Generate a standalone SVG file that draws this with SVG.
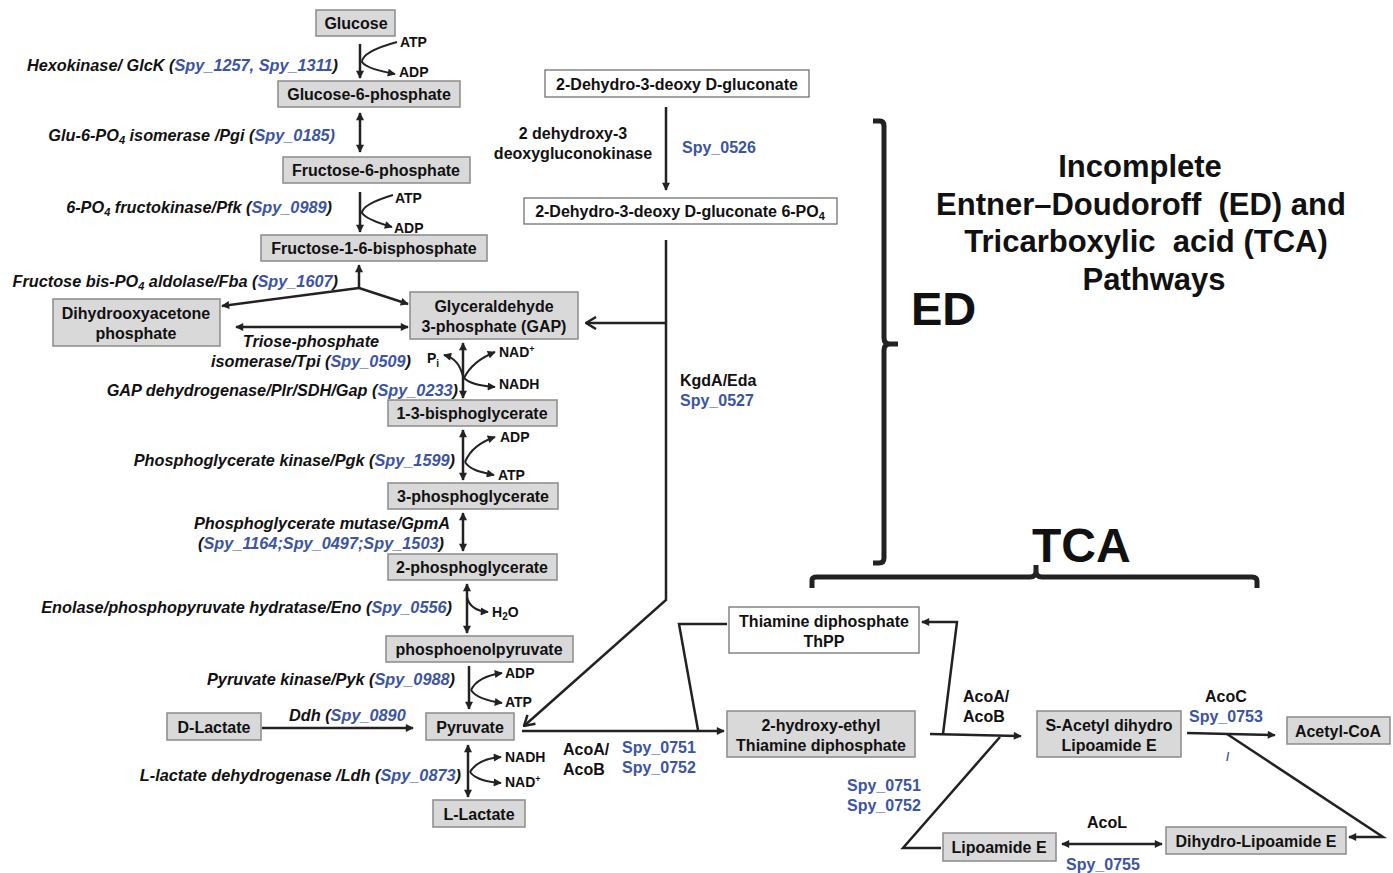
<svg xmlns="http://www.w3.org/2000/svg" width="1393" height="873" viewBox="0 0 1393 873">
<style>
text{font-family:"Liberation Sans",Arial,sans-serif;font-weight:bold;fill:#111}
.n{font-size:16px;text-anchor:middle}
.e{font-size:16.3px;font-style:italic}
.s{fill:#3b54a6}
.c{font-size:14px}
.lbl{font-size:16px}
.g{fill:#d9d9d9;stroke:#8a8a8a;stroke-width:1.5}
.w{fill:#fff;stroke:#666;stroke-width:1.2}
.ln{fill:none;stroke:#222;stroke-width:2.5}
.cf{fill:none;stroke:#222;stroke-width:2}
.br{fill:none;stroke:#222;stroke-width:5;stroke-linejoin:round}
.t{font-size:31px;text-anchor:middle;white-space:pre}
</style>
<defs>
<marker id="a" viewBox="0 0 10 10" refX="9" refY="5" markerWidth="9" markerHeight="8" markerUnits="userSpaceOnUse" orient="auto-start-reverse"><path d="M0,0 L10,5 L0,10 z" fill="#222"/></marker>
<marker id="ch" viewBox="0 0 12 14" refX="11" refY="7" markerWidth="12" markerHeight="14" markerUnits="userSpaceOnUse" orient="auto-start-reverse"><path d="M1,1 L11,7 L1,13" fill="none" stroke="#222" stroke-width="2.5"/></marker>
</defs>

<g id="connectors">
<line class="ln" x1="360" y1="44" x2="360" y2="78" marker-end="url(#a)"/>
<line class="ln" x1="360" y1="113" x2="360" y2="152" marker-start="url(#a)" marker-end="url(#a)"/>
<line class="ln" x1="360" y1="192" x2="360" y2="232" marker-end="url(#a)"/>
<line class="ln" x1="359" y1="288" x2="359" y2="265" marker-end="url(#a)"/>
<line class="ln" x1="359" y1="288" x2="222" y2="306" marker-end="url(#a)"/>
<line class="ln" x1="359" y1="288" x2="408" y2="304" marker-end="url(#a)"/>
<line class="ln" x1="236" y1="327" x2="408" y2="327" marker-start="url(#a)" marker-end="url(#a)"/>
<line class="ln" x1="463" y1="343" x2="463" y2="398" marker-start="url(#a)" marker-end="url(#a)"/>
<line class="ln" x1="463" y1="430" x2="463" y2="480" marker-start="url(#a)" marker-end="url(#a)"/>
<line class="ln" x1="463" y1="513" x2="463" y2="551" marker-start="url(#a)" marker-end="url(#a)"/>
<line class="ln" x1="467" y1="584" x2="467" y2="633" marker-start="url(#a)" marker-end="url(#a)"/>
<line class="ln" x1="469" y1="666" x2="469" y2="709" marker-end="url(#a)"/>
<line class="ln" x1="262" y1="728" x2="413" y2="728" marker-end="url(#a)"/>
<line class="ln" x1="468" y1="745" x2="468" y2="797" marker-start="url(#a)" marker-end="url(#a)"/>
<path class="cf" d="M397,42 C375,48 362,55 362,62 C366,68 380,71 395,74" marker-end="url(#a)"/>
<path class="cf" d="M393,195 C373,201 362,207 362,213 C366,219 378,223 392,227" marker-end="url(#a)"/>
<path class="cf" d="M463,376 C460,366 456,358 444,355" marker-end="url(#a)"/>
<path class="cf" d="M464,378 C470,366 480,358 495,352" marker-end="url(#a)"/>
<path class="cf" d="M464,378 C470,384 480,386 495,387" marker-end="url(#a)"/>
<path class="cf" d="M465,462 C470,450 480,442 495,437" marker-end="url(#a)"/>
<path class="cf" d="M465,462 C470,470 480,472 494,475" marker-end="url(#a)"/>
<path class="cf" d="M467,597 C469,606 475,611 488,612" marker-end="url(#a)"/>
<path class="cf" d="M471,690 C476,680 488,675 502,673" marker-end="url(#a)"/>
<path class="cf" d="M471,690 C476,698 488,701 502,703" marker-end="url(#a)"/>
<path class="cf" d="M470,772 C476,762 488,758 501,757" marker-end="url(#a)"/>
<path class="cf" d="M470,772 C476,780 488,782 501,783" marker-end="url(#a)"/>
<line class="ln" x1="666" y1="107" x2="666" y2="190" marker-end="url(#a)"/>
<polyline class="ln" points="666,240 666,600 524,726" marker-end="url(#ch)"/>
<line class="ln" x1="666" y1="323" x2="586" y2="323" marker-end="url(#ch)"/>
<line class="ln" x1="522" y1="731" x2="724" y2="731" marker-end="url(#a)"/>
<polyline class="ln" points="727,624 679,624 698,730"/>
<line class="ln" x1="930" y1="734" x2="1021" y2="736" marker-end="url(#a)"/>
<polyline class="ln" points="943,734 957,622 922,622" marker-end="url(#a)"/>
<polyline class="ln" points="1000,737 903,848 941,848"/>
<line class="ln" x1="1062" y1="844" x2="1162" y2="844" marker-start="url(#a)" marker-end="url(#a)"/>
<line class="ln" x1="1187" y1="733" x2="1275" y2="735" marker-end="url(#a)"/>
<polyline class="ln" points="1227,734 1383,837 1349,837" marker-end="url(#a)"/>
</g>

<g id="braces">
<path class="br" d="M873,121 L880,121 Q884,121 884,126 L884,338 Q884,344 890,344 L898,344 M890,344 Q884,344 884,350 L884,558 Q884,563 879,563 L873,563"/>
<path class="br" d="M812,588 L812,580 Q812,577 817,577 L1030,577 Q1036,577 1036,571 L1036,565 M1036,571 Q1036,577 1042,577 L1252,577 Q1257,577 1257,581 L1257,588"/>
</g>

<g id="glucose"><rect class="g" x="316" y="10" width="79" height="26"/><text class="n" x="356" y="29">Glucose</text></g>
<g id="g6p"><rect class="g" x="278" y="81" width="182" height="26"/><text class="n" x="369" y="100">Glucose-6-phosphate</text></g>
<g id="f6p"><rect class="g" x="283" y="157" width="187" height="26"/><text class="n" x="376" y="176">Fructose-6-phosphate</text></g>
<g id="f16bp"><rect class="g" x="261" y="235" width="226" height="26"/><text class="n" x="374" y="254">Fructose-1-6-bisphosphate</text></g>
<g id="dhap"><rect class="g" x="53" y="299" width="167" height="47"/><text class="n" x="136" y="319">Dihydrooxyacetone</text><text class="n" x="136" y="339">phosphate</text></g>
<g id="gap"><rect class="g" x="410" y="292" width="168" height="47"/><text class="n" x="494" y="312">Glyceraldehyde</text><text class="n" x="494" y="332">3-phosphate (GAP)</text></g>
<g id="bpg13"><rect class="g" x="388" y="400" width="169" height="26"/><text class="n" x="472" y="419">1-3-bisphoglycerate</text></g>
<g id="pg3"><rect class="g" x="388" y="483" width="170" height="26"/><text class="n" x="473" y="502">3-phosphoglycerate</text></g>
<g id="pg2"><rect class="g" x="388" y="554" width="169" height="26"/><text class="n" x="472" y="573">2-phosphoglycerate</text></g>
<g id="pep"><rect class="g" x="386" y="636" width="187" height="26"/><text class="n" x="479" y="655">phosphoenolpyruvate</text></g>
<g id="dlac"><rect class="g" x="167" y="713" width="94" height="27"/><text class="n" x="214" y="733">D-Lactate</text></g>
<g id="pyr"><rect class="g" x="426" y="713" width="88" height="27"/><text class="n" x="470" y="733">Pyruvate</text></g>
<g id="llac"><rect class="g" x="433" y="800" width="92" height="27"/><text class="n" x="479" y="820">L-Lactate</text></g>
<g id="kdg"><rect class="w" x="545" y="70" width="264" height="27"/><text class="n" x="677" y="90">2-Dehydro-3-deoxy D-gluconate</text></g>
<g id="kdpg"><rect class="w" x="524" y="198" width="313" height="26"/><text class="n" x="680" y="217">2-Dehydro-3-deoxy D-gluconate 6-PO<tspan font-size="11" dy="3">4</tspan></text></g>
<g id="thpp"><rect class="w" x="729" y="607" width="190" height="46"/><text class="n" x="824" y="627">Thiamine diphosphate</text><text class="n" x="824" y="647">ThPP</text></g>
<g id="hethpp"><rect class="g" x="727" y="711" width="188" height="46"/><text class="n" x="821" y="731">2-hydroxy-ethyl</text><text class="n" x="821" y="751">Thiamine diphosphate</text></g>
<g id="sacetyl"><rect class="g" x="1037" y="711" width="144" height="46"/><text class="n" x="1109" y="731">S-Acetyl dihydro</text><text class="n" x="1109" y="751">Lipoamide E</text></g>
<g id="acetylcoa"><rect class="g" x="1287" y="717" width="103" height="27"/><text class="n" x="1338" y="737">Acetyl-CoA</text></g>
<g id="lipoamide"><rect class="g" x="943" y="833" width="113" height="28"/><text class="n" x="999" y="853">Lipoamide E</text></g>
<g id="dihydrolipo"><rect class="g" x="1166" y="827" width="180" height="27"/><text class="n" x="1256" y="847">Dihydro-Lipoamide E</text></g>

<g id="enzyme-labels">
<text class="e" x="338" y="71" text-anchor="end">Hexokinase/ GlcK (<tspan class="s">Spy_1257, Spy_1311</tspan>)</text>
<text class="e" x="335" y="141" text-anchor="end">Glu-6-PO<tspan font-size="11" dy="3">4</tspan><tspan dy="-3"> isomerase /Pgi (</tspan><tspan class="s">Spy_0185)</tspan></text>
<text class="e" x="332" y="213" text-anchor="end">6-PO<tspan font-size="11" dy="3">4</tspan><tspan dy="-3"> fructokinase/Pfk (</tspan><tspan class="s">Spy_0989</tspan>)</text>
<text class="e" x="338" y="287" text-anchor="end">Fructose bis-PO<tspan font-size="11" dy="3">4</tspan><tspan dy="-3"> aldolase/Fba (</tspan><tspan class="s">Spy_1607</tspan>)</text>
<text class="e" x="311" y="347" text-anchor="middle">Triose-phosphate</text>
<text class="e" x="311" y="367" text-anchor="middle">isomerase/Tpi (<tspan class="s">Spy_0509</tspan>)</text>
<text class="e" x="458" y="396" text-anchor="end">GAP dehydrogenase/Plr/SDH/Gap (<tspan class="s">Spy_0233</tspan>)</text>
<text class="e" x="455" y="466" text-anchor="end">Phosphoglycerate kinase/Pgk (<tspan class="s">Spy_1599</tspan>)</text>
<text class="e" x="322" y="529" text-anchor="middle">Phosphoglycerate mutase/GpmA</text>
<text class="e" x="321" y="549" text-anchor="middle">(<tspan class="s">Spy_1164;Spy_0497;Spy_1503</tspan>)</text>
<text class="e" x="452" y="613" text-anchor="end">Enolase/phosphopyruvate hydratase/Eno (<tspan class="s">Spy_0556</tspan>)</text>
<text class="e" x="455" y="685" text-anchor="end">Pyruvate kinase/Pyk (<tspan class="s">Spy_0988</tspan>)</text>
<text class="e" x="289" y="721">Ddh (<tspan class="s">Spy_0890</tspan></text>
<text class="e" x="461" y="781" text-anchor="end">L-lactate dehydrogenase /Ldh (<tspan class="s">Spy_0873</tspan>)</text>
</g>

<g id="cofactors">
<text class="c" x="400" y="47">ATP</text>
<text class="c" x="399" y="77">ADP</text>
<text class="c" x="395" y="203">ATP</text>
<text class="c" x="394" y="233">ADP</text>
<text class="c" x="427" y="363">P<tspan font-size="10" dy="4">i</tspan></text>
<text class="c" x="499" y="357">NAD<tspan font-size="9" dy="-5">+</tspan></text>
<text class="c" x="499" y="389">NADH</text>
<text class="c" x="500" y="442">ADP</text>
<text class="c" x="498" y="480">ATP</text>
<text class="c" x="492" y="617">H<tspan font-size="10" dy="3">2</tspan><tspan dy="-3">O</tspan></text>
<text class="c" x="505" y="678">ADP</text>
<text class="c" x="505" y="707">ATP</text>
<text class="c" x="505" y="762">NADH</text>
<text class="c" x="505" y="787">NAD<tspan font-size="9" dy="-5">+</tspan></text>
</g>

<g id="ed-labels">
<text class="lbl" x="573" y="139" text-anchor="middle">2 dehydroxy-3</text>
<text class="lbl" x="573" y="159" text-anchor="middle">deoxygluconokinase</text>
<text class="lbl s" x="682" y="153">Spy_0526</text>
<text class="lbl" x="680" y="386">KgdA/Eda</text>
<text class="lbl s" x="680" y="406">Spy_0527</text>
</g>

<g id="tca-labels">
<text class="lbl" x="563" y="755">AcoA/</text>
<text class="lbl" x="563" y="775">AcoB</text>
<text class="lbl s" x="622" y="753">Spy_0751</text>
<text class="lbl s" x="622" y="773">Spy_0752</text>
<text class="lbl" x="963" y="702">AcoA/</text>
<text class="lbl" x="963" y="722">AcoB</text>
<text class="lbl s" x="847" y="791">Spy_0751</text>
<text class="lbl s" x="847" y="811">Spy_0752</text>
<text class="lbl" x="1205" y="702">AcoC</text>
<text class="lbl s" x="1189" y="722">Spy_0753</text>
<text class="s" x="1226" y="761" font-size="12" font-weight="normal">/</text>
<text class="lbl" x="1087" y="828">AcoL</text>
<text class="lbl s" x="1066" y="870">Spy_0755</text>
</g>

<g id="titles">
<text class="t" x="1140" y="177">Incomplete</text>
<text class="t" x="1141" y="215">Entner–Doudoroff  (ED) and</text>
<text class="t" x="1146" y="252">Tricarboxylic  acid (TCA)</text>
<text class="t" x="1154" y="290">Pathways</text>
<text x="911" y="325" font-size="47">ED</text>
<text x="1032" y="562" font-size="48">TCA</text>
</g>
</svg>
